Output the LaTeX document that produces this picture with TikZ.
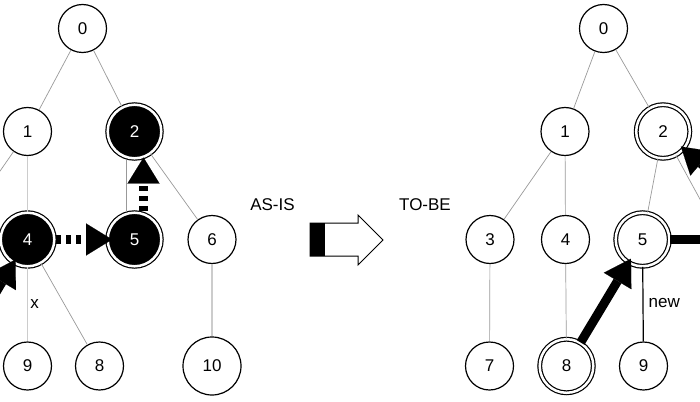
\documentclass[tikz,border=0pt]{standalone}
\usepackage{fontspec}
\setmainfont{Liberation Sans}
\usetikzlibrary{arrows.meta,calc}
\begin{document}
\begin{tikzpicture}[x=1pt,y=-1pt,
  every node/.style={font=\fontsize{17}{20}\selectfont},
  vtx/.style={circle,draw=black,line width=1.2pt,fill=white,minimum size=48pt,inner sep=0pt},
  bigvtx/.style={vtx,minimum size=58pt},
  dbl/.style={circle,draw=black,line width=1.2pt,double=white,double distance=2.5pt,fill=white,minimum size=53.6pt,inner sep=0pt},
  dblblack/.style={dbl,fill=black,text=white},
  thinedge/.style={draw=black!40,line width=0.7pt},
  lightedge/.style={draw=black!20,line width=1.6pt},
  newedge/.style={draw=black,line width=1.2pt},
  thickarrow/.style={line width=9pt,-{Triangle[length=26pt,width=32pt,line width=0.1pt]}},
  dasharrow/.style={thickarrow,dash pattern=on 4.5pt off 5.5pt},
  lbl/.style={inner sep=0pt}
]
\useasboundingbox (0,0) rectangle (700,401);
\clip (0,0) rectangle (700,401);

% ---------- AS-IS (left) ----------
\node[vtx] (L0) at (82.5,28.5) {0};
\node[vtx] (L1) at (27.5,131.5) {1};
\node[dblblack] (L2) at (134.5,131.5) {2};
\coordinate (L3) at (-47.5,239.5);
\node[dblblack] (L4) at (27.5,239.5) {4};
\node[dblblack] (L5) at (134.5,239.5) {5};
\node[vtx] (L6) at (212,239.5) {6};
\node[vtx] (L9) at (27.5,366) {9};
\node[vtx] (L8) at (99.5,366) {8};
\node[bigvtx] (L10) at (212,366) {10};
\coordinate (L7) at (-48,366);

\path[thinedge] (L0) -- (L1);
\path[thinedge] (L0) -- (L2);
\path[thinedge] (L1) -- (L3);
\path[lightedge] (L1) -- (L4);
\path[thinedge] ($(L2.center)+(-8,28)$) -- ($(L5.center)+(-8,-28)$);
\path[thinedge] (L2) -- (L6);
\path[lightedge] (L4) -- node[lbl,right=2pt,pos=0.5] (Lx) {x} (L9);
\path[thinedge] (L4) -- (L8);
\path[lightedge] (L6) -- (L10);

\draw[dasharrow,shorten <=1.5pt,shorten >=-5pt] (L4) -- (L5);
\draw[dasharrow] ($(L5.center)+(9,-29)$) -- ($(L2.center)+(9,26)$);
\draw[thickarrow,shorten >=-4pt] (L7) -- (L4);

% ---------- middle ----------
\node[lbl] (asis) at (272.5,205) {AS-IS};
\node[lbl] (tobe) at (425,205) {TO-BE};
\draw[line width=1pt,fill=white] (310,223) -- (358,223) -- (358,215) -- (383,240) -- (358,265) -- (358,256) -- (310,256) -- cycle;
\fill[black] (310,223) rectangle (325,256);

% ---------- TO-BE (right) ----------
\node[vtx] (R0) at (603.5,28.5) {0};
\node[vtx] (R1) at (565,131.5) {1};
\node[dbl] (R2) at (663,131.5) {2};
\node[vtx] (R3) at (490,239.5) {3};
\node[vtx] (R4) at (565.5,239.5) {4};
\node[dbl] (R5) at (642.5,239.5) {5};
\node[vtx] (R7) at (489.5,366) {7};
\node[dbl] (R8) at (566.5,366) {8};
\node[vtx] (R9) at (643.5,366) {9};
\coordinate (R6g) at (722,239.5);
\coordinate (R6a) at (770,222);
\coordinate (R6b) at (790,239.5);

\path[thinedge] (R0) -- (R1);
\path[thinedge] (R0) -- (R2);
\path[thinedge] (R1) -- (R3);
\path[thinedge] (R1) -- (R4);
\path[thinedge] (R2) -- (R5);
\path[thinedge] (R2) -- (R6g);
\path[thinedge] (R3) -- (R7);
\path[thinedge] (R4) -- (R8);
\path[newedge] (R5) -- node[lbl,right=5pt,pos=0.48] (Rnew) {new} (R9);

\draw[line width=9pt] (R5) -- (R6b);
\draw[thickarrow,shorten >=-5pt] (R8) -- (R5);
\draw[thickarrow,shorten >=-4pt] (R6a) -- (R2);
\end{tikzpicture}
\end{document}
